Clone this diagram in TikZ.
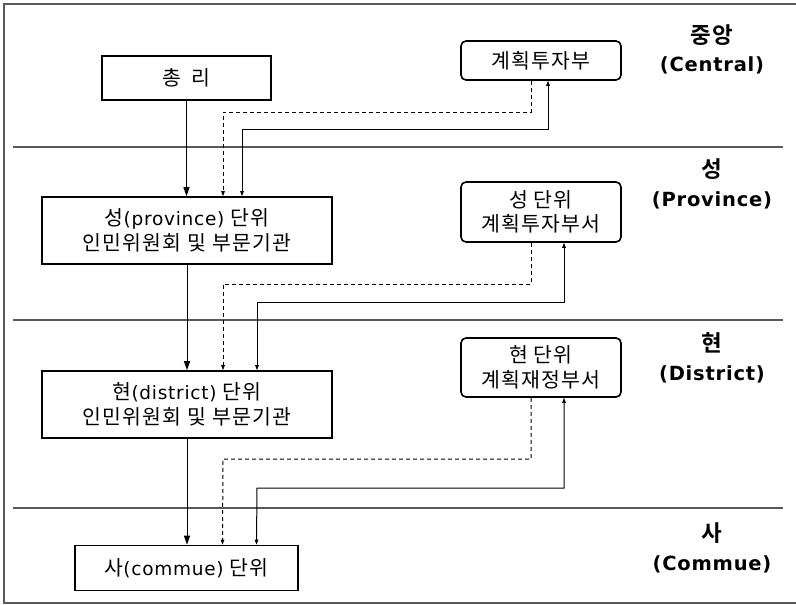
\documentclass[tikz,border=0pt]{standalone}
\usepackage{fontspec}
\setmainfont{Noto Sans CJK KR}[LetterSpace=6, BoldFont={Noto Sans CJK KR Bold}]
\newfontfamily\latfont{DejaVu Sans}[LetterSpace=4]
\newcommand{\latin}[1]{{\latfont\fontsize{18.5}{24}\selectfont #1}}
\usetikzlibrary{arrows.meta, positioning, calc}

\begin{document}
\begin{tikzpicture}[
    x=1pt, y=-1pt,
    box/.style={rectangle, draw, line width=1.6pt, inner sep=0pt, align=center, font=\fontsize{20.5}{24.5}\selectfont},
    dept/.style={box, rounded corners=5pt},
    level/.style={align=center, font=\bfseries\fontsize{22.5}{28.5}\selectfont},
    sep/.style={draw=black!65, line width=1.1pt},
    main/.style={-{Triangle[length=9pt, width=6pt]}, line width=1pt},
    dline/.style={dashed, dash pattern=on 4pt off 3pt, line width=1pt, -{Triangle[length=5pt, width=3.5pt]}},
    sline/.style={line width=1pt, {Triangle[length=5pt, width=3.5pt]}-{Triangle[length=5pt, width=3.5pt]}}
]
\useasboundingbox (0,0) rectangle (796,605);
\draw[draw=black!65, line width=1.6pt] (800,4) -- (4,4) -- (4,603) -- (800,603);

% level separators
\draw[sep] (13,147) -- (783,147);
\draw[sep] (13,320) -- (783,320);
\draw[sep] (13,508) -- (783,508);

% boxes
\node[box, minimum width=169pt, minimum height=44pt] (pm) at (186.5,78) {총\hspace{11pt}리};
\node[dept, minimum width=160pt, minimum height=39pt] (mpi) at (541,60.5) {계획투자부};
\node[box, minimum width=290pt, minimum height=67pt] (prov) at (187,230.5) {성\latin{(province)} 단위\\인민위원회 및 부문기관};
\node[dept, minimum width=160pt, minimum height=60pt] (provdpi) at (541,212) {성 단위\\계획투자부서};
\node[box, minimum width=290pt, minimum height=67pt] (dist) at (187,404.5) {현\latin{(district)} 단위\\인민위원회 및 부문기관};
\node[dept, minimum width=160pt, minimum height=59pt] (distdpf) at (541,367.5) {현 단위\\계획재정부서};
\node[box, minimum width=223pt, minimum height=45pt] (comm) at (186.5,568) {사\latin{(commue)} 단위};

% level labels
\node[level] (lvc) at (712,49.5) {중앙\\{\latfont\fontsize{19.5}{28.5}\selectfont (Central)}};
\node[level] (lvp) at (712,184) {성\\{\latfont\fontsize{19.5}{28.5}\selectfont (Province)}};
\node[level] (lvd) at (712,358) {현\\{\latfont\fontsize{19.5}{28.5}\selectfont (District)}};
\node[level] (lvs) at (712,548) {사\\{\latfont\fontsize{19.5}{28.5}\selectfont (Commue)}};

% central -> province
\draw[main] (pm) -- (prov.north -| pm);
\draw[dline] ([xshift=-10pt]mpi.south) |- (223,112) -- ([xshift=36pt]prov.north);
\draw[sline] ([xshift=7pt]mpi.south) |- (242,129) -- ([xshift=55pt]prov.north);

% province -> district
\draw[main] (prov) -- (dist);
\draw[dline] ([xshift=-10pt]provdpi.south) |- (223,284) -- ([xshift=36pt]dist.north);
\draw[sline] ([xshift=23pt]provdpi.south) |- (257,302) -- ([xshift=70pt]dist.north);

% district -> commune
\draw[main] (dist) -- (comm.north -| dist);
\draw[dline] ([xshift=-10pt]distdpf.south) |- (223,459) -- ([xshift=36pt]comm.north);
\draw[sline] ([xshift=23pt]distdpf.south) |- (257,488) -- ([xshift=70pt]comm.north);
\end{tikzpicture}
\end{document}
